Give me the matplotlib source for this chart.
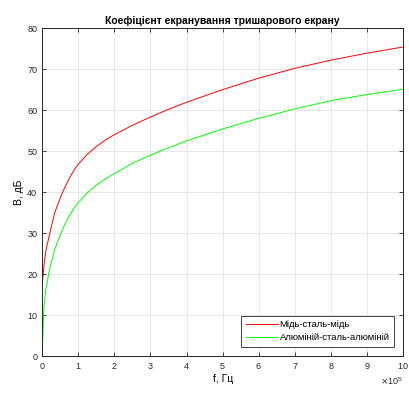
import numpy as np
import matplotlib
matplotlib.use('Agg')
import matplotlib.pyplot as plt

plt.rcParams['font.family'] = ['Liberation Sans', 'DejaVu Sans']

# частота, Гц (у одиницях 1e5)
f = np.array([0, 0.05, 0.1, 0.2, 0.35, 0.5, 0.6, 0.75, 0.9, 1, 1.25, 1.5, 1.75,
              2, 2.5, 3, 3.5, 4, 5, 6, 7, 8, 9, 10]) * 1e5
b_cu = [17, 22, 25.5, 29.5, 35, 38.5, 40.6, 43.3, 45.6, 46.8, 49.2, 51.1, 52.7,
        54, 56.3, 58.3, 60.2, 61.9, 65.0, 67.8, 70.2, 72.2, 73.9, 75.4]
b_al = [0, 12, 16, 21, 26, 29.5, 31.6, 34.2, 36.3, 37.4, 39.8, 41.7, 43.2,
        44.5, 47, 49, 50.8, 52.5, 55.4, 58, 60.3, 62.3, 63.8, 65.1]
labels = ['Мідь-сталь-мідь', 'Алюміній-сталь-алюміній']

fig = plt.figure(figsize=(4.09, 3.96), dpi=100)
ax = fig.add_axes([0.103, 0.101, 0.883, 0.828])

ax.plot(f, b_cu, color='#ff0000', lw=0.7, label=labels[0])
ax.plot(f, b_al, color='#00ff00', lw=0.7, label=labels[1])

ax.set_xlim(0, 1e6)
ax.set_ylim(0, 80)
ax.set_xticks(np.arange(0, 11) * 1e5)
ax.set_yticks(np.arange(0, 81, 10))
ax.ticklabel_format(style='sci', axis='x', scilimits=(5, 5), useMathText=True)
ax.xaxis.get_offset_text().set_fontsize(6.5)

ax.grid(True, color='#e3e3e3', lw=0.6)
ax.tick_params(direction='in', top=True, right=True, labelsize=6.5, length=3,
               colors='#262626', width=0.6)
for s in ax.spines.values():
    s.set_color('#262626')
    s.set_linewidth(0.7)

ax.set_title('Коефіцієнт екранування тришарового екрану', fontsize=7.5,
             fontweight='bold', pad=3)
ax.set_xlabel('f, Гц', fontsize=7.5, labelpad=2)
ax.set_ylabel('B, дБ', fontsize=7.5, labelpad=2)

leg = ax.legend(loc='lower right', fontsize=6.8, fancybox=False, framealpha=1,
                edgecolor='#262626', handlelength=3.4, handletextpad=0.2,
                borderaxespad=1.0, labelspacing=0.45, borderpad=0.45)
leg.get_frame().set_linewidth(0.6)

fig.savefig('out.png', dpi=100)
